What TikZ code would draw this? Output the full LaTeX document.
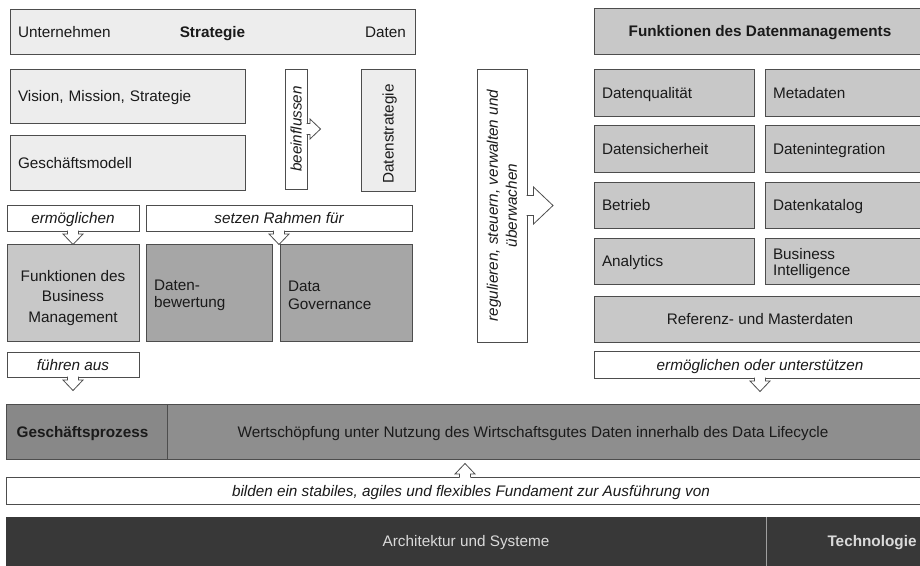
\documentclass[tikz,border=0pt]{standalone}
\usepackage{fontspec}
\setmainfont{Liberation Sans}
\definecolor{boxline}{HTML}{4D4D4D}
\definecolor{txt}{HTML}{1A1A1A}
\definecolor{fillL}{HTML}{EDEDED}
\definecolor{fillM}{HTML}{C8C8C8}
\definecolor{fillD}{HTML}{A6A6A6}
\definecolor{fillG}{HTML}{8E8E8E}
\definecolor{fillGd}{HTML}{888888}
\definecolor{fillK}{HTML}{383838}
\definecolor{txtK}{HTML}{DADADA}
\newcommand\dmfont{\fontsize{15.3}{17.6}\selectfont}
\tikzset{
  oneline/.style={text height=11pt, text depth=0pt},
  base/.style={draw=boxline, line width=0.8pt, inner sep=0pt, outer sep=0pt,
    text=txt, font=\dmfont, oneline},
  leftbox/.style={base, align=left, inner xsep=8pt},
  midbox/.style={base, align=center},
  labelbox/.style={base, fill=white, align=center, font=\dmfont\itshape},
  plain/.style={inner sep=0pt, outer sep=0pt, text=txt, font=\dmfont},
  plainone/.style={plain, oneline},
  arrowline/.style={draw=boxline, line width=0.8pt, line join=miter},
  pics/smallarrow/.style={code={
    \fill[white] (-5.5,1.2) -- (-5.5,-3) -- (-10,-3) -- (0,-13.5) -- (10,-3)
      -- (5.5,-3) -- (5.5,1.2) -- cycle;
    \draw[arrowline] (-5.5,0.4) -- (-5.5,-3) -- (-10,-3) -- (0,-13.5) -- (10,-3)
      -- (5.5,-3) -- (5.5,0.4);
  }},
  pics/bigarrow/.style={code={
    \fill[white] (-10,1.2) -- (-10,-6.5) -- (-18.5,-6.5) -- (0,-26) -- (18.5,-6.5)
      -- (10,-6.5) -- (10,1.2) -- cycle;
    \draw[arrowline] (-10,0.4) -- (-10,-6.5) -- (-18.5,-6.5) -- (0,-26) -- (18.5,-6.5)
      -- (10,-6.5) -- (10,0.4);
  }},
}
\begin{document}
\begin{tikzpicture}[x=1pt,y=1pt]
\useasboundingbox (0,0) rectangle (920,-565);
\clip (0,0) rectangle (920,-565);

% --- Strategie ---
\node[base, fill=fillL, minimum width=405, minimum height=45] (strat) at (212.5,-31.5) {};
\node[plainone, anchor=west] (strat-u) at ([xshift=8]strat.west) {Unternehmen};
\node[plainone] (strat-s) at (strat.center) {\bfseries Strategie};
\node[plainone, anchor=east] (strat-d) at ([xshift=-9]strat.east) {Daten};

\node[leftbox, fill=fillL, text width=219, minimum height=54] (vision) at (127.5,-96) {Vision, Mission, Strategie};
\node[leftbox, fill=fillL, text width=219, minimum height=55] (gesch) at (127.5,-162.5) {Geschäftsmodell};
\node[labelbox, rotate=90, minimum width=120, minimum height=22] (beein) at (296,-129) {beeinflussen};
\node[base, fill=fillL, minimum width=54, minimum height=122] (dstrat) at (388,-130) {};
\node[plainone, rotate=90] (dstrat-t) at (388,-134) {Datenstrategie};

\node[labelbox, minimum width=132, minimum height=26] (ermoeg) at (73,-218) {ermöglichen};
\node[labelbox, minimum width=266, minimum height=26] (setzen) at (279,-218) {setzen Rahmen für};

\node[base, fill=fillM, minimum width=132, minimum height=97] (fbm) at (73,-292.5) {};
\node[plain, align=center, font=\fontsize{15.3}{20.3}\selectfont] (fbm-t) at (73,-298)
  {Funktionen des\\Business\\Management};
\node[base, fill=fillD, minimum width=126, minimum height=97] (dbew) at (209,-292.5) {};
\node[plain, align=left, anchor=west] (dbew-t) at ([xshift=8,yshift=-3]dbew.west) {Daten-\\bewertung};
\node[base, fill=fillD, minimum width=132, minimum height=97] (dgov) at (346,-292.5) {};
\node[plain, align=left, anchor=west] (dgov-t) at ([xshift=8,yshift=-3]dgov.west) {Data\\Governance};
\node[labelbox, minimum width=132, minimum height=25] (fuehren) at (73,-364.5) {führen aus};

% --- Steuerung ---
\node[labelbox, rotate=90, minimum width=273, minimum height=50, text height=, text depth=,
  font=\fontsize{15.3}{19}\selectfont\itshape] (regul) at (502,-205.5)
  {regulieren, steuern, verwalten und\\überwachen};

% --- Funktionen des Datenmanagements ---
\node[midbox, fill=fillM, minimum width=332, minimum height=46] (fdm) at (760,-31) {\bfseries Funktionen des Datenmanagements};
\node[leftbox, fill=fillM, text width=144, minimum height=47] (dq) at (674,-92.5) {Datenqualität};
\node[leftbox, fill=fillM, text width=145, minimum height=47] (meta) at (845.5,-92.5) {Metadaten};
\node[leftbox, fill=fillM, text width=144, minimum height=47] (dsich) at (674,-148.5) {Datensicherheit};
\node[leftbox, fill=fillM, text width=145, minimum height=47] (dint) at (845.5,-148.5) {Datenintegration};
\node[leftbox, fill=fillM, text width=144, minimum height=46] (betr) at (674,-205) {Betrieb};
\node[leftbox, fill=fillM, text width=145, minimum height=46] (dkat) at (845.5,-205) {Datenkatalog};
\node[leftbox, fill=fillM, text width=144, minimum height=46] (anal) at (674,-261) {Analytics};
\node[base, fill=fillM, minimum width=161, minimum height=46] (bi) at (845.5,-261) {};
\node[plain, align=left, anchor=west, font=\fontsize{15.3}{16.3}\selectfont] (bi-t) at ([xshift=8,yshift=-2.5]bi.west) {Business\\Intelligence};
\node[midbox, fill=fillM, minimum width=332, minimum height=46] (ref) at (760,-319) {Referenz- und Masterdaten};
\node[labelbox, minimum width=332, minimum height=27] (ermunt) at (760,-364.5) {ermöglichen oder unterstützen};

% --- Geschäftsprozess ---
\node[base, fill=fillGd, minimum width=161, minimum height=55] (gp) at (86.5,-431.5) {};
\node[plainone] (gp-t) at ([xshift=-4]gp.center) {\bfseries Geschäftsprozess};
\node[base, fill=fillG, minimum width=763, minimum height=55] (wert) at (548.5,-431.5) {};
\node[plainone] (wert-t) at (533,-431.5) {Wertschöpfung unter Nutzung des Wirtschaftsgutes Daten innerhalb des Data Lifecycle};

\node[labelbox, minimum width=924, minimum height=27] (bilden) at (468,-490.5) {};
\node[plainone, font=\dmfont\itshape] (bilden-t) at (471,-490.5) {bilden ein stabiles, agiles und flexibles Fundament zur Ausführung von};

% --- Technologie ---
\node[base, draw=fillK, fill=fillK, minimum width=760, minimum height=53] (arch) at (386,-543.5) {};
\node[base, draw=fillK, fill=fillK, minimum width=164, minimum height=53] (tech) at (848,-543.5) {};
\draw[draw=gray!75, line width=0.8pt] (arch.north east) -- (arch.south east);
\node[plainone, text=txtK] (arch-t) at (466,-541) {Architektur und Systeme};
\node[plainone, text=txtK] (tech-t) at (872,-541) {\bfseries Technologie};

% --- Pfeile ---
\pic[rotate=90] at (beein.south) {smallarrow};
\pic at (ermoeg.south) {smallarrow};
\pic at (setzen.south) {smallarrow};
\pic at (fuehren.south) {smallarrow};
\pic at (ermunt.south) {smallarrow};
\pic[rotate=180] at ([xshift=-3]bilden.north) {smallarrow};
\pic[rotate=90] at (regul.south) {bigarrow};
\end{tikzpicture}
\end{document}
